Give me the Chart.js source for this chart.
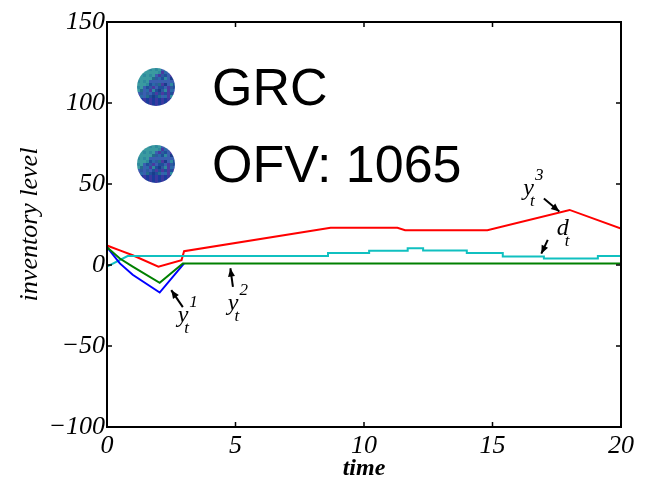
<!DOCTYPE html>
<html>
<head>
<meta charset="utf-8">
<script src="https://cdn.jsdelivr.net/npm/chart.js@4"></script>
<style>
  html, body { margin: 0; padding: 0; background: #fff; }
  canvas { display: block; }
</style>
</head>
<body>
<canvas id="chartInv" width="652" height="480"></canvas>
<script>
// Tick values and labels
const xTicks = [0, 5, 10, 15, 20];
const xTickLabels = ['0', '5', '10', '15', '20'];
const yTicks = [-100, -50, 0, 50, 100, 150];
const yTickLabels = ['\u2212100', '\u221250', '0', '50', '100', '150'];

// y_t^3 (red)
const redTime = [0, 0.5, 1, 2, 2.9, 3.0, 8.7, 11.3, 11.6, 14.8, 18, 20];
const redLevel = [12, 9, 6, -1, 3, 8.5, 23, 23, 21.5, 21.5, 34, 22.5];

// d_t (cyan)
const cyanTime = [0, 0.8, 8.6, 8.6, 10.2, 10.2, 11.7, 11.7, 12.3, 12.3, 14, 14, 15.4, 15.4, 17, 17, 19.1, 19.1, 20];
const cyanLevel = [-1, 5.5, 5.5, 7.4, 7.4, 8.8, 8.8, 10.3, 10.3, 9, 9, 7.4, 7.4, 5.2, 5.2, 4, 4, 5.5, 5.5];

// y_t^1 (blue)
const blueTime = [0, 0.5, 1, 2.05, 3.0];
const blueLevel = [11, 1, -6, -17, 1];

// y_t^2 (green)
const greenTime = [0, 0.5, 1, 2.05, 2.95, 20];
const greenLevel = [11, 4, -1, -11, 1, 1];

// legend overlay texts
const overlayTexts = ['GRC', 'OFV: 1065'];

function toPoints(xs, ys) {
    return xs.map((x, i) => ({ x: x, y: ys[i] }));
}

const serif = "'Liberation Serif', 'Times New Roman', serif";

// axes box with inward ticks, annotations and the pasted legend
const decorPlugin = {
    id: 'decor',
    afterDatasetsDraw(chart) {
        const ctx = chart.ctx;
        const a = chart.chartArea;
        const xs = chart.scales.x;
        const ys = chart.scales.y;
        ctx.save();
        ctx.strokeStyle = '#000';
        ctx.lineWidth = 2;
        ctx.strokeRect(a.left, a.top, a.right - a.left, a.bottom - a.top);
        ctx.lineWidth = 1.5;
        const tl = 5;
        ctx.beginPath();
        xTicks.forEach(v => {
            const px = xs.getPixelForValue(v);
            ctx.moveTo(px, a.bottom); ctx.lineTo(px, a.bottom - tl);
            ctx.moveTo(px, a.top); ctx.lineTo(px, a.top + tl);
        });
        yTicks.forEach(v => {
            const py = ys.getPixelForValue(v);
            ctx.moveTo(a.left, py); ctx.lineTo(a.left + tl, py);
            ctx.moveTo(a.right, py); ctx.lineTo(a.right - tl, py);
        });
        ctx.stroke();

        // series annotations: [main, sup, sub, x, y] in data units
        const notes = [
            ['y', '1', 't', 2.75, -35],
            ['y', '2', 't', 4.7, -28],
            ['y', '3', 't', 16.2, 43],
            ['d', '', 't', 17.5, 18.5]
        ];
        ctx.fillStyle = '#000';
        ctx.textBaseline = 'alphabetic';
        ctx.textAlign = 'left';
        notes.forEach(n => {
            const px = xs.getPixelForValue(n[3]);
            const py = ys.getPixelForValue(n[4]);
            ctx.font = 'italic 24px ' + serif;
            ctx.fillText(n[0], px, py);
            const w = ctx.measureText(n[0]).width;
            ctx.font = 'italic 17px ' + serif;
            if (n[1]) ctx.fillText(n[1], px + w + 1, py - 15);
            ctx.fillText(n[2], px + w - 4, py + 11);
        });

        // arrows: [fromX, fromY, toX, toY] in data units
        const arrows = [
            [2.95, -26, 2.5, -15.5],
            [4.9, -13.5, 4.8, -2],
            [17.0, 41, 17.6, 33],
            [17.15, 15.5, 16.9, 7]
        ];
        arrows.forEach(r => {
            const x1 = xs.getPixelForValue(r[0]), y1 = ys.getPixelForValue(r[1]);
            const x2 = xs.getPixelForValue(r[2]), y2 = ys.getPixelForValue(r[3]);
            const ang = Math.atan2(y2 - y1, x2 - x1);
            ctx.lineWidth = 2;
            ctx.beginPath();
            ctx.moveTo(x1, y1); ctx.lineTo(x2, y2);
            ctx.stroke();
            ctx.beginPath();
            ctx.moveTo(x2, y2);
            ctx.lineTo(x2 - 9 * Math.cos(ang - 0.4), y2 - 9 * Math.sin(ang - 0.4));
            ctx.lineTo(x2 - 9 * Math.cos(ang + 0.4), y2 - 9 * Math.sin(ang + 0.4));
            ctx.closePath();
            ctx.fill();
        });

        // pasted legend: mosaic dots + big sans text
        const palette = ['#2a6aa8', '#1f4f9a', '#2e8a9e', '#3a5fb0', '#1a3c8c', '#4a3aa0', '#236c8c', '#2d5aa0'];
        overlayTexts.forEach((t, k) => {
            const cx = 156, cy = 87 + k * 77, r = 19;
            ctx.save();
            ctx.beginPath();
            ctx.arc(cx, cy, r, 0, Math.PI * 2);
            ctx.clip();
            for (let i = -r; i < r; i += 3) {
                for (let j = -r; j < r; j += 3) {
                    let c = palette[Math.abs(i * 7 + j * 13 + i * j) % palette.length];
                    if (i + j < -14) c = (i * j) % 2 ? '#2e8a9e' : '#3a9aa0';
                    if (j > 10) c = (i % 2) ? '#3a3aa0' : '#1a3c9c';
                    ctx.fillStyle = c;
                    ctx.fillRect(cx + i, cy + j, 3, 3);
                }
            }
            ctx.restore();
            ctx.fillStyle = '#000';
            ctx.font = "52px 'Liberation Sans', Arial, sans-serif";
            ctx.fillText(t, 212, 105 + k * 77);
        });
        ctx.restore();
    }
};

document.addEventListener('DOMContentLoaded', function() {
    const ctx = document.getElementById('chartInv').getContext('2d');
    new Chart(ctx, {
        type: 'line',
        data: {
            datasets: [
                { label: 'y3', data: toPoints(redTime, redLevel), borderColor: '#ff0000', order: 4 },
                { label: 'd', data: toPoints(cyanTime, cyanLevel), borderColor: '#10c0c0', order: 3 },
                { label: 'y1', data: toPoints(blueTime, blueLevel), borderColor: '#0000ff', order: 2 },
                { label: 'y2', data: toPoints(greenTime, greenLevel), borderColor: '#008000', order: 1 }
            ]
        },
        options: {
            responsive: false,
            animation: false,
            devicePixelRatio: 1,
            layout: { padding: { left: 0, top: 22, right: 31, bottom: 0 } },
            elements: {
                line: { borderWidth: 2, tension: 0, fill: false },
                point: { radius: 0 }
            },
            scales: {
                x: {
                    type: 'linear',
                    min: 0,
                    max: 20,
                    afterBuildTicks: axis => { axis.ticks = xTicks.map(v => ({ value: v })); },
                    afterFit: axis => { axis.height = 53; },
                    grid: { display: false, drawTicks: false },
                    border: { display: false },
                    ticks: {
                        padding: 4,
                        color: '#000',
                        maxRotation: 0,
                        font: { family: serif, size: 26, style: 'italic' },
                        callback: (v, i) => xTickLabels[i]
                    },
                    title: {
                        display: true,
                        text: 'time',
                        color: '#000',
                        padding: { top: 0, bottom: -3 },
                        font: { family: serif, size: 24, style: 'italic', weight: 'bold' }
                    }
                },
                y: {
                    type: 'linear',
                    min: -100,
                    max: 150,
                    afterBuildTicks: axis => { axis.ticks = yTicks.map(v => ({ value: v })); },
                    afterFit: axis => { axis.width = 107; },
                    grid: { display: false, drawTicks: false },
                    border: { display: false },
                    ticks: {
                        padding: 2,
                        color: '#000',
                        font: { family: serif, size: 26, style: 'italic' },
                        callback: (v, i) => yTickLabels[i]
                    },
                    title: {
                        display: true,
                        text: 'inventory level',
                        color: '#000',
                        padding: { top: 15, bottom: 0 },
                        font: { family: serif, size: 26, style: 'italic' }
                    }
                }
            },
            plugins: {
                legend: { display: false },
                tooltip: { enabled: false }
            }
        },
        plugins: [decorPlugin]
    });
});
</script>
</body>
</html>
